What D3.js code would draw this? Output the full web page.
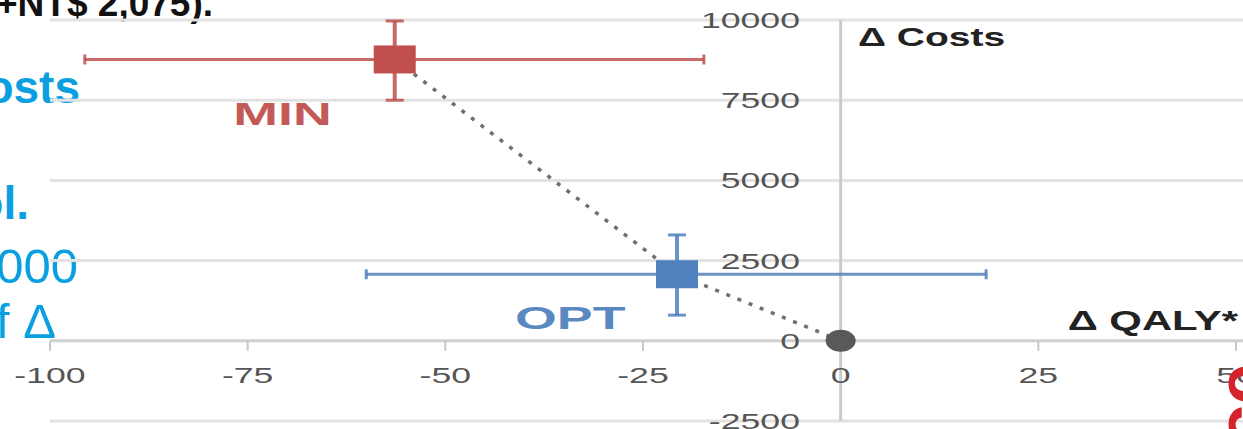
<!DOCTYPE html>
<html><head><meta charset="utf-8">
<script src="https://cdn.jsdelivr.net/npm/d3@7"></script>
<style>html,body{margin:0;padding:0;background:#fff;overflow:hidden}</style>
</head><body>
<svg id="c" width="1243" height="429"></svg>
<script>
// ---- data ----
const xTicks = [-100, -75, -50, -25, 0, 25, 50];
const yTicks = [-2500, 0, 2500, 5000, 7500, 10000];
const strategies = ["MIN", "OPT"];
const dQaly = [-56.4, -20.7];
const dCost = [8770, 2075];
const qalyLow = [-95.6, -60.0];
const qalyHigh = [-17.3, 18.4];
const costLow = [7500, 800];
const costHigh = [9970, 3300];
const originQaly = [0];
const originCost = [0];
const colors = ["#c0504d", "#4f81bd"];
const xTitle = "Δ QALY*";
const yTitle = "Δ Costs";
const slideText = ["+NT$ 2,075).", "osts", "ol.", "000", "f Δ"];

const svg = d3.select("#c");
const x = d3.scaleLinear().domain([-100, 50]).range([50, 1236]);
const y = d3.scaleLinear().domain([-2500, 10000]).range([421, 20]);
const SX = 1.62;
const tickFont = "'Liberation Sans', Arial, sans-serif";

// slide text fragments (left)
const st = svg.append("g").attr("font-family", "'Liberation Sans', Arial, sans-serif").attr("text-anchor", "end");
st.append("text").attr("x", 213).attr("y", 16).attr("font-size", 37).attr("font-weight", "bold").attr("fill", "#111").text(slideText[0]);
st.append("text").attr("x", 80).attr("y", 103).attr("font-size", 46).attr("font-weight", "bold").attr("fill", "#0a9fe0").text(slideText[1]);
st.append("text").attr("x", 29).attr("y", 219).attr("font-size", 46).attr("font-weight", "bold").attr("fill", "#0a9fe0").text(slideText[2]);
st.append("text").attr("x", 78).attr("y", 283).attr("font-size", 49).attr("fill", "#0a9fe0").text(slideText[3]);
st.append("text").attr("x", 56).attr("y", 338).attr("font-size", 49).attr("fill", "#0a9fe0").text(slideText[4]);

// gridlines
svg.append("g").selectAll("line").data(yTicks.filter(d => d !== 0)).join("line")
  .attr("x1", x(-100)).attr("x2", 1243)
  .attr("y1", d => y(d)).attr("y2", d => y(d))
  .attr("stroke", "#e2e2e2").attr("stroke-width", 3);

// x axis line at y=0
svg.append("line").attr("x1", x(-100)).attr("x2", 1243).attr("y1", y(0)).attr("y2", y(0))
  .attr("stroke", "#d0d0d0").attr("stroke-width", 3);
svg.append("g").selectAll("line").data(xTicks).join("line")
  .attr("x1", d => x(d)).attr("x2", d => x(d))
  .attr("y1", y(0)).attr("y2", y(0) + 10)
  .attr("stroke", "#c8c8c8").attr("stroke-width", 2);
// y axis line at x=0
svg.append("line").attr("x1", x(0)).attr("x2", x(0)).attr("y1", y(10000)).attr("y2", y(-2500))
  .attr("stroke", "#cacaca").attr("stroke-width", 3);

// dotted connector
const path = [0, 1].map(i => [dQaly[i], dCost[i]]).concat([[originQaly[0], originCost[0]]]);
svg.append("path")
  .attr("d", d3.line().x(d => x(d[0])).y(d => y(d[1]))(path))
  .attr("fill", "none").attr("stroke", "#6f6f6f").attr("stroke-width", 3.5)
  .attr("stroke-dasharray", "4,8");

// error bars
strategies.forEach((s, i) => {
  const g = svg.append("g").attr("stroke", colors[i]).attr("stroke-opacity", 0.85).attr("stroke-width", 3);
  const cx = x(dQaly[i]), cy = y(dCost[i]);
  g.append("line").attr("x1", x(qalyLow[i])).attr("x2", x(qalyHigh[i])).attr("y1", cy).attr("y2", cy);
  g.append("line").attr("x1", x(qalyLow[i])).attr("x2", x(qalyLow[i])).attr("y1", cy - 5).attr("y2", cy + 5);
  g.append("line").attr("x1", x(qalyHigh[i])).attr("x2", x(qalyHigh[i])).attr("y1", cy - 5).attr("y2", cy + 5);
  g.append("line").attr("x1", cx).attr("x2", cx).attr("y1", y(costLow[i])).attr("y2", y(costHigh[i])).attr("stroke-width", 4);
  g.append("line").attr("x1", cx - 9).attr("x2", cx + 9).attr("y1", y(costLow[i])).attr("y2", y(costLow[i]));
  g.append("line").attr("x1", cx - 9).attr("x2", cx + 9).attr("y1", y(costHigh[i])).attr("y2", y(costHigh[i]));
  svg.append("rect").attr("x", cx - 21).attr("y", cy - 14).attr("width", 42).attr("height", 28)
    .attr("fill", colors[i]);
});

// origin point
svg.append("ellipse").attr("cx", x(originQaly[0])).attr("cy", y(originCost[0]))
  .attr("rx", 15).attr("ry", 11).attr("fill", "#595959");

// series labels
const labPos = [[-70.6, 6720], [-34.2, 370]];
strategies.forEach((s, i) => {
  svg.append("text")
    .attr("transform", `translate(${x(labPos[i][0])},${y(labPos[i][1])}) scale(1.68,1)`)
    .attr("text-anchor", "middle").attr("font-family", tickFont).attr("font-weight", "bold")
    .attr("font-size", 32).attr("fill", colors[i]).attr("fill-opacity", 0.95).text(s);
});

// y tick labels
svg.append("g").selectAll("text").data(yTicks).join("text")
  .attr("transform", d => `translate(800,${y(d)}) scale(${SX},1)`)
  .attr("dy", "0.36em").attr("text-anchor", "end")
  .attr("font-family", tickFont).attr("font-size", 22).attr("fill", "#555")
  .text(d => d);
// x tick labels
svg.append("g").selectAll("text").data(xTicks).join("text")
  .attr("transform", d => `translate(${x(d)},375) scale(${SX},1)`)
  .attr("dy", "0.36em").attr("text-anchor", "middle")
  .attr("font-family", tickFont).attr("font-size", 22).attr("fill", "#555")
  .text(d => d);

// axis titles
svg.append("text").attr("transform", `translate(858,46) scale(1.5,1)`)
  .attr("font-family", tickFont).attr("font-weight", "bold").attr("font-size", 26).attr("fill", "#222")
  .text(yTitle);
svg.append("text").attr("transform", `translate(1238,330) scale(1.55,1)`).attr("text-anchor", "end")
  .attr("font-family", tickFont).attr("font-weight", "bold").attr("font-size", 27).attr("fill", "#222")
  .text(xTitle);

// red slide text fragment on right edge
svg.append("text").attr("transform", "translate(1268,446) rotate(-90)")
  .attr("font-family", tickFont).attr("font-weight", "bold").attr("font-size", 74).attr("fill", "#d4232d")
  .text("ce");
</script>
</body></html>
